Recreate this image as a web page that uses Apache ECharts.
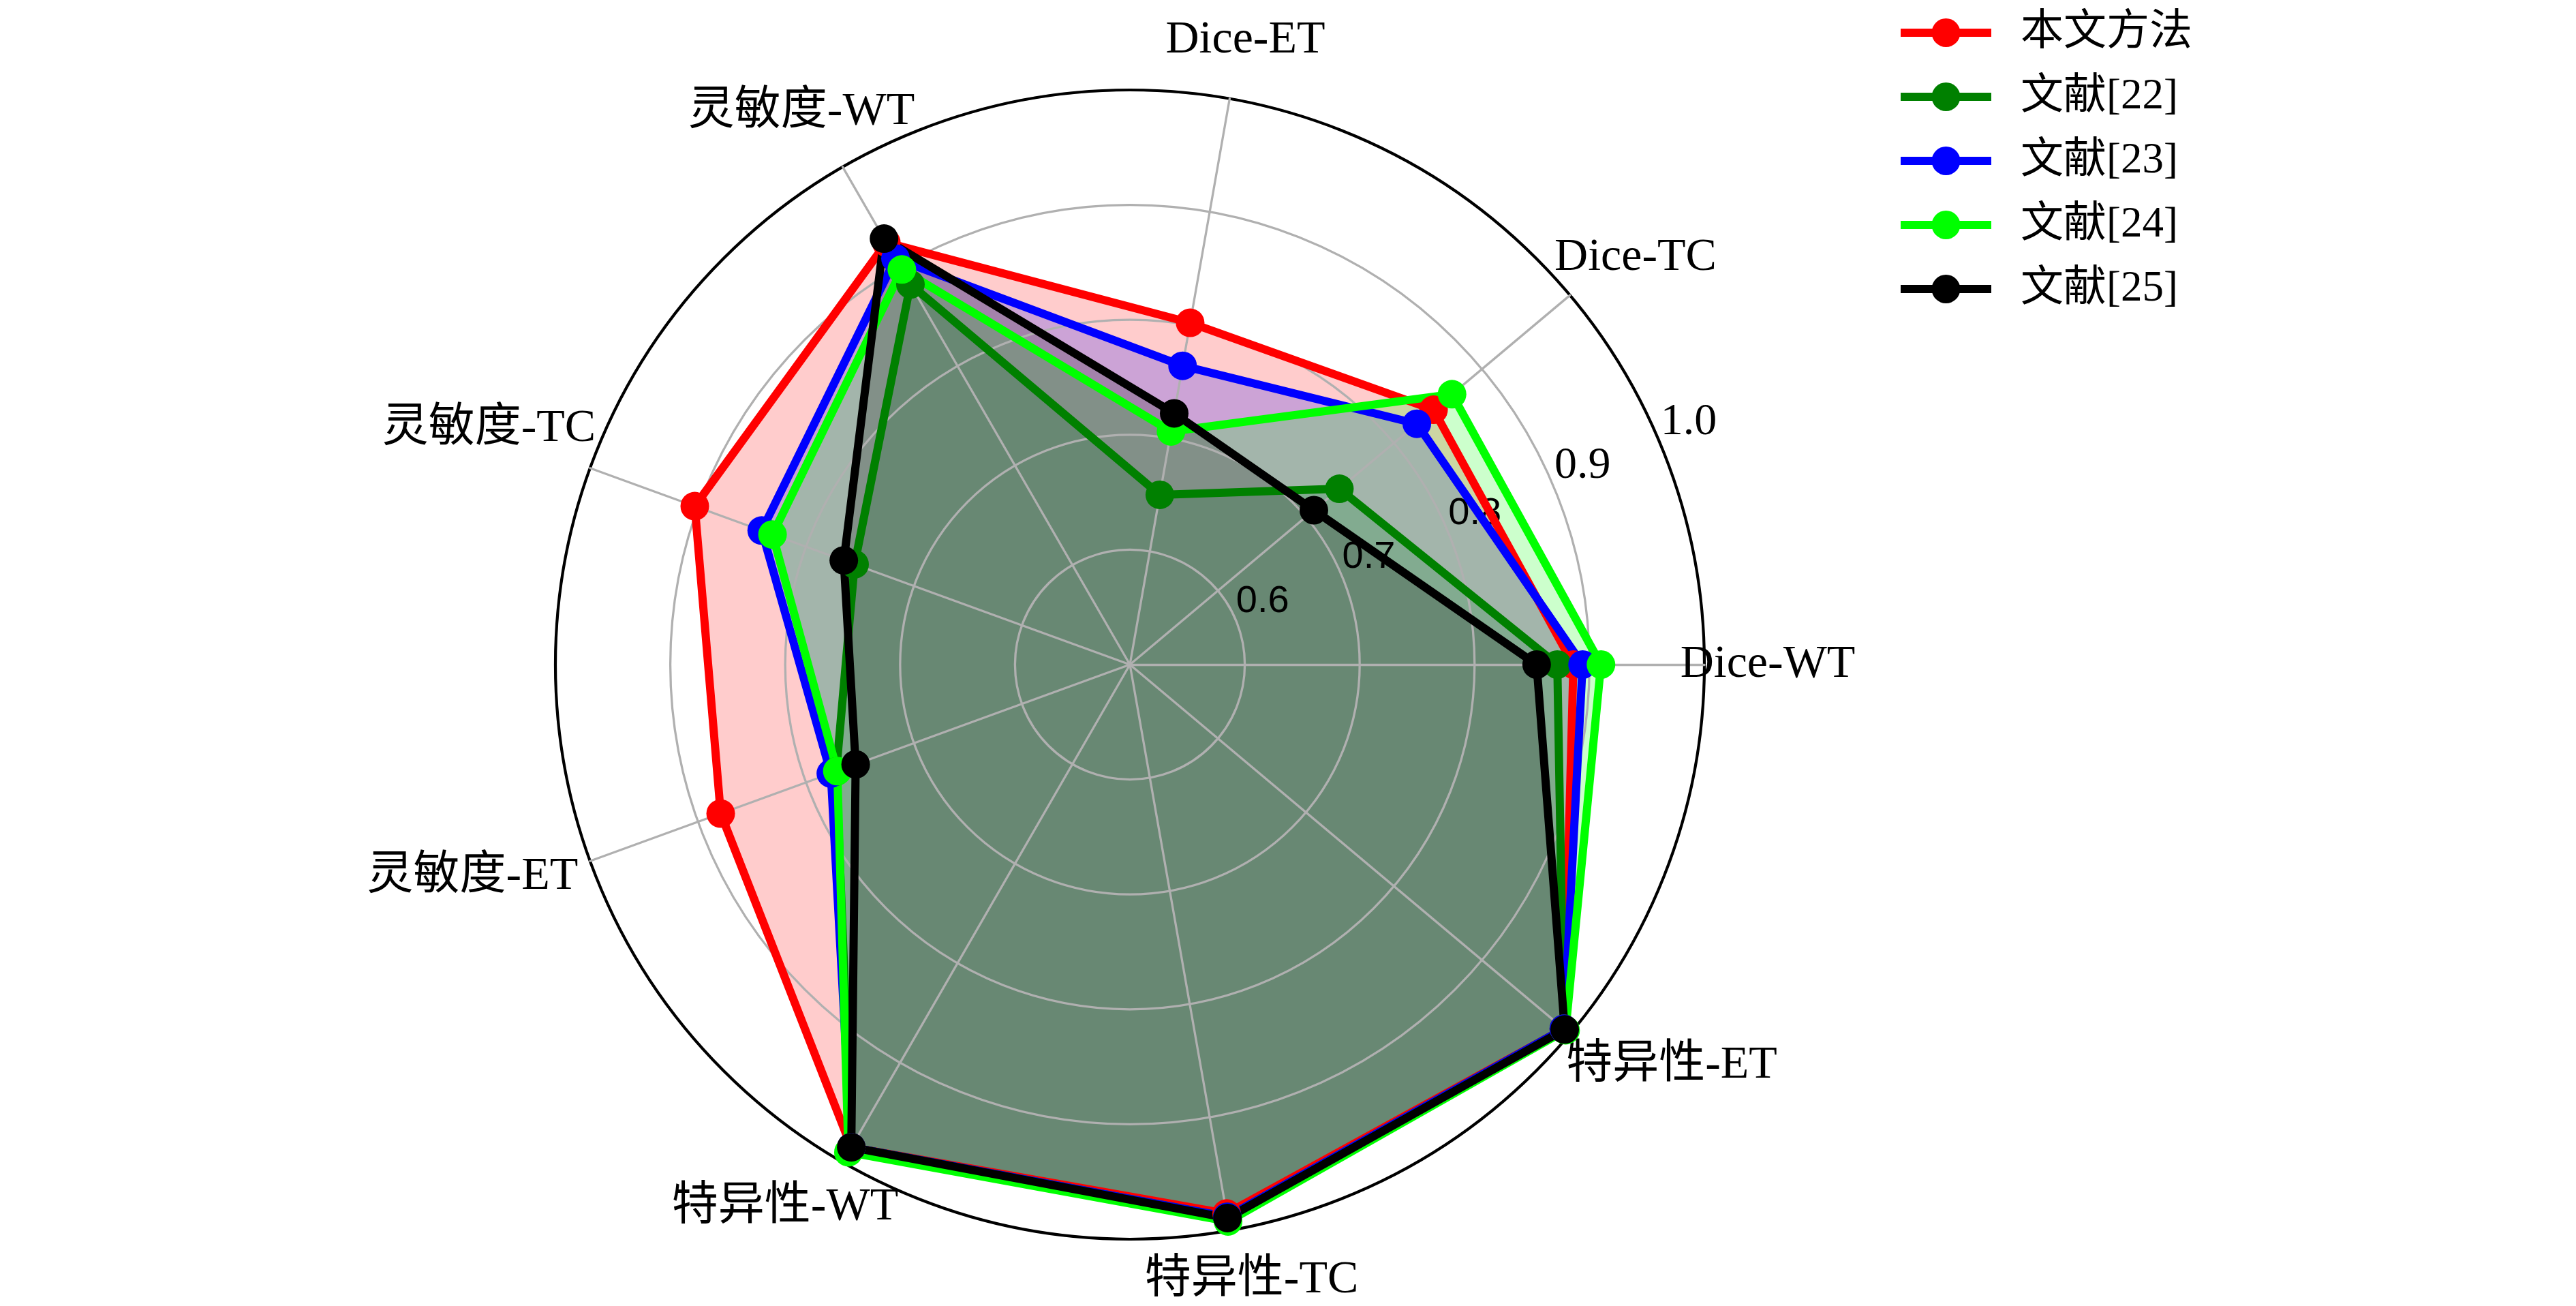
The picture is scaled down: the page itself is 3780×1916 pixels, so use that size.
<!DOCTYPE html>
<html>
<head>
<meta charset="utf-8">
<script src="https://cdn.jsdelivr.net/npm/echarts@6/dist/echarts.min.js"></script>
<style>
html,body{margin:0;padding:0;background:#fff;}
#chart{width:3780px;height:1916px;}
</style>
</head>
<body>
<div id="chart"></div>
<script>
// ---- data ----
const indicators = ['Dice-WT','Dice-TC','Dice-ET','灵敏度-WT','灵敏度-TC','灵敏度-ET','特异性-WT','特异性-TC','特异性-ET'];
const seriesNames = ['本文方法','文献[22]','文献[23]','文献[24]','文献[25]'];
const ours  = [0.886, 0.845, 0.802, 0.924, 0.903, 0.879, 0.985, 0.985, 0.993];
const ref22 = [0.872, 0.738, 0.650, 0.882, 0.755, 0.772, 0.985, 0.988, 0.993];
const ref23 = [0.894, 0.826, 0.764, 0.908, 0.841, 0.777, 0.985, 0.988, 0.993];
const ref24 = [0.910, 0.866, 0.706, 0.897, 0.831, 0.771, 0.990, 0.992, 0.995];
const ref25 = [0.854, 0.709, 0.722, 0.928, 0.765, 0.754, 0.985, 0.989, 0.994];
const radialTicks = ['0.6','0.7','0.8','0.9','1.0'];
const rMin = 0.5, rMax = 1.0;

// ---- styling ----
const allValues = [ours, ref22, ref23, ref24, ref25];
const colors = ['#ff0000','#008000','#0000ff','#00ff00','#000000'];
const serif = "'Liberation Serif','Times New Roman','Noto Sans CJK SC',serif";
const sans = "'Liberation Sans',Arial,sans-serif";
const C = [1658, 975], R = 843;
// per-label nudges [dx, dy] relative to centred anchor
const nudge = [[0,0],[25,5],[7,6],[-14,0],[-61,-26],[-85,-9],[-38,-14],[16,-19],[78,-14]];
const nameRich = {};
nudge.forEach((d, i) => {
  const [dx, dy] = d;
  nameRich['n' + i] = {
    fontSize: 68, fontFamily: serif, color: '#000',
    padding: [dy > 0 ? 2*dy : 0, dx < 0 ? -2*dx : 0, dy < 0 ? -2*dy : 0, dx > 0 ? 2*dx : 0]
  };
});

const legendIcon = 'path://M0 15 H133 V27 H0 Z M45.5 21 A21 21 0 1 1 87.5 21 A21 21 0 1 1 45.5 21 Z';

const areaSeries = seriesNames.map((name, i) => ({
  type: 'radar', radarIndex: 0, name: name, z: 1,
  symbol: 'none',
  lineStyle: {width: 0, opacity: 0},
  itemStyle: {color: colors[i]},
  areaStyle: {color: colors[i], opacity: 0.2},
  emphasis: {disabled: true}, silent: true,
  data: [{name: name, value: allValues[i]}]
}));
const lineSeries = seriesNames.map((name, i) => ({
  type: 'radar', radarIndex: 0, name: name, z: 3,
  symbol: 'circle', symbolSize: 42,
  lineStyle: {color: colors[i], width: 12, join: 'round'},
  itemStyle: {color: colors[i]},
  emphasis: {disabled: true},
  data: [{name: name, value: allValues[i]}]
}));

const chart = echarts.init(document.getElementById('chart'), null, {renderer: 'canvas'});
const option = {
  backgroundColor: '#fff',
  animation: false,
  legend: {
    orient: 'vertical', left: 2784, top: 11,
    itemWidth: 133, itemHeight: 42, itemGap: 30,
    icon: legendIcon,
    data: seriesNames,
    textStyle: {fontSize: 63, lineHeight: 64, fontFamily: serif, color: '#000', padding: [0,0,0,38]}
  },
  radar: [{
    z: 2,
    center: C, radius: R, startAngle: 0, shape: 'circle', splitNumber: 5,
    indicator: indicators.map(n => ({name: n, min: rMin, max: rMax})),
    nameGap: 93,
    axisName: {
      color: '#000', fontSize: 68, fontFamily: serif, align: 'center', verticalAlign: 'middle',
      formatter: (v) => '{n' + indicators.indexOf(v) + '|' + v + '}',
      rich: nameRich
    },
    axisLine: {lineStyle: {color: '#b0b0b0', width: 3.3}},
    splitLine: {lineStyle: {color: '#b0b0b0', width: 3.3}},
    splitArea: {show: false},
    axisTick: {show: false},
    axisLabel: {show: false}
  }, {
    z: 2,
    center: C, radius: R, startAngle: 0, shape: 'circle', splitNumber: 1,
    indicator: indicators.map(n => ({name: n, min: rMin, max: rMax})),
    axisName: {show: false},
    axisLine: {show: false},
    splitLine: {lineStyle: {color: '#000', width: 4.2}},
    splitArea: {show: false},
    axisTick: {show: false},
    axisLabel: {show: false}
  }],
  polar: {center: C, radius: R},
  angleAxis: {
    type: 'value', startAngle: 22.5, min: 0, max: 360,
    axisLine: {show: false}, axisTick: {show: false}, axisLabel: {show: false}, splitLine: {show: false}
  },
  radiusAxis: {
    type: 'value', min: rMin, max: rMax, interval: 0.1, z: 2,
    axisLine: {show: false}, axisTick: {show: false}, splitLine: {show: false},
    axisLabel: {
      margin: 0, align: 'left', verticalAlign: 'bottom',
      formatter: (v) => {
        const s = Number(v).toFixed(1);
        if (radialTicks.indexOf(s) < 0) return '';
        return (Number(s) >= 0.9 ? '{s|' : '{a|') + s + '}';
      },
      rich: {
        a: {fontSize: 56, fontFamily: sans, color: '#000'},
        s: {fontSize: 66, fontFamily: serif, color: '#000'}
      }
    }
  },
  series: areaSeries.concat(lineSeries)
};
chart.setOption(option);
</script>
</body>
</html>
